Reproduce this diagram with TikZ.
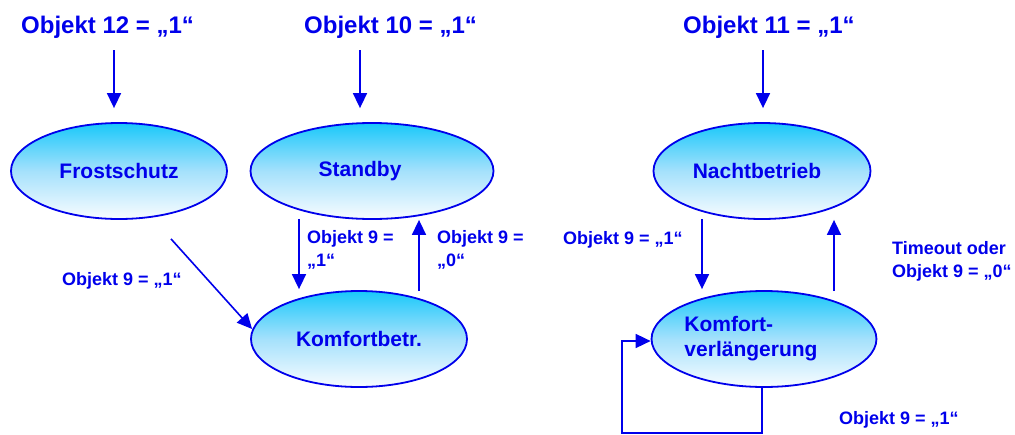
\documentclass[tikz,border=0pt]{standalone}
\usepackage{fontspec}
\setmainfont{Liberation Sans}
\usetikzlibrary{shapes.geometric,arrows.meta,calc}
\definecolor{kblue}{RGB}{0,0,235}
\definecolor{kcyan}{RGB}{25,200,250}
\definecolor{kmid}{RGB}{165,225,252}
\definecolor{kwhite}{RGB}{248,252,255}
\pgfdeclareverticalshading{kshade}{100bp}{color(0bp)=(kwhite); color(25bp)=(kwhite); color(50bp)=(kmid); color(75bp)=(kcyan); color(100bp)=(kcyan)}
\begin{document}
\begin{tikzpicture}[x=1pt,y=-1pt,
  state/.style={ellipse,draw=kblue,line width=1.8pt,shading=kshade,
    minimum width=216pt,minimum height=96pt,inner sep=0pt,text=kblue,
    font=\fontsize{21}{25}\selectfont\bfseries,align=left},
  title/.style={anchor=base west,inner sep=0pt,text=kblue,font=\fontsize{24}{28}\selectfont\bfseries},
  lab/.style={anchor=base west,inner sep=0pt,text=kblue,align=left,font=\fontsize{18}{23}\selectfont\bfseries},
  arr/.style={draw=kblue,line width=1.6pt,-{Triangle[length=15pt,width=14pt]}}]
\useasboundingbox (0,0) rectangle (1015,434);
% titles
\node[title] (t1) at (21,33) {Objekt 12 = „1“};
\node[title] (t2) at (304,33) {Objekt 10 = „1“};
\node[title] (t3) at (683,33) {Objekt 11 = „1“};
% states
\node[state] (fs) at (119,171) {Frostschutz};
\node[state,minimum width=243pt] (sb) at (372,171) {Standby\hspace*{24pt}};
\node[state,minimum width=217pt] (nb) at (762,171) {Nachtbetrieb\hspace*{10pt}};
\node[state] (kb) at (359,339) {Komfortbetr.};
\node[state] (kv) at (764,339) {Komfort-\\verlängerung\hspace*{26pt}};
% labels (base anchor = baseline of last line)
\node[lab] (l1) at (62,285) {Objekt 9 = „1“};
\node[lab] (l2) at (307,266) {Objekt 9 =\\„1“};
\node[lab] (l3) at (437,266) {Objekt 9 =\\„0“};
\node[lab] (l4) at (563,244) {Objekt 9 = „1“};
\node[lab] (l5) at (892,277) {Timeout oder\\Objekt 9 = „0“};
\node[lab] (l6) at (839,424) {Objekt 9 = „1“};
% entry arrows
\draw[arr] ($(fs.north)+(-5,-72)$) -- ($(fs.north)+(-5,-14)$);
\draw[arr] ($(sb.north)+(-12,-72)$) -- ($(sb.north)+(-12,-14)$);
\draw[arr] ($(nb.north)+(1,-72)$) -- ($(nb.north)+(1,-14)$);
% transitions
\draw[arr] ($(fs.south)+(52,19)$) -- ($(kb.west)+(2,-10)$);
\draw[arr] ($(sb.south)+(-73,-1)$) -- ($(kb.north)+(-60,-1)$);
\draw[arr] ($(kb.north)+(60,1)$) -- ($(sb.south)+(47,0)$);
\draw[arr] ($(nb.south)+(-60,-1)$) -- ($(kv.north)+(-62,-1)$);
\draw[arr] ($(kv.north)+(70,1)$) -- ($(nb.south)+(72,0)$);
% self loop
\coordinate (lb) at (622,433);
\coordinate (ls) at ($(kv.south)+(-2,0)$);
\draw[arr] (ls) -- (ls |- lb) -- (lb) -- ($(lb |- kv.west)+(0,2)$) -- ($(kv.west)+(0,2)$);
\end{tikzpicture}
\end{document}
